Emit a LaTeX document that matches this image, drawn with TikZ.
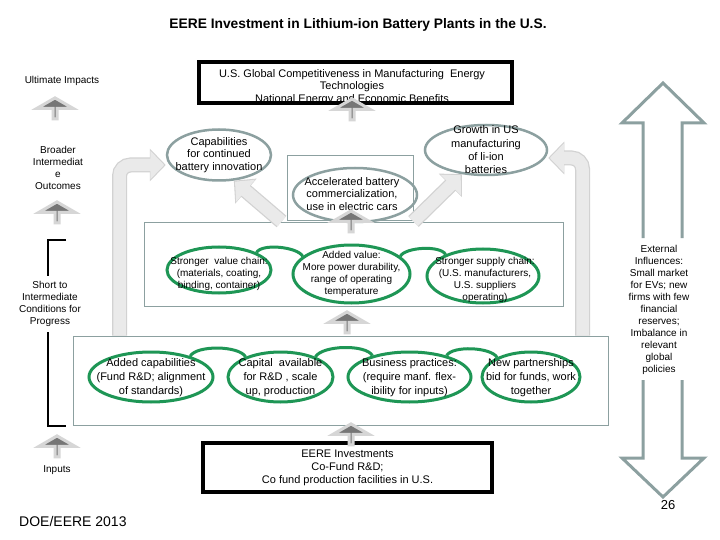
\documentclass[tikz,border=0pt]{standalone}
\usepackage{fontspec}
\setmainfont{Liberation Sans}
\usepackage{tikz}
\usetikzlibrary{shapes.geometric, shapes.arrows, arrows.meta}
\definecolor{tealgray}{RGB}{140,160,160}
\definecolor{chaingreen}{RGB}{30,150,85}
\definecolor{fatfill}{RGB}{234,234,234}
\definecolor{fatedge}{RGB}{210,210,210}
\definecolor{uplight}{RGB}{214,214,214}
\definecolor{updark}{RGB}{118,118,118}

\begin{document}
\begin{tikzpicture}[
				x=1pt, y=-1pt,
				lbl/.style={align=center, inner sep=0pt, font=\fontsize{10}{12}\selectfont},
				txt/.style={align=center, inner sep=0pt, font=\fontsize{11}{12.5}\selectfont},
				gtxt/.style={align=center, inner sep=0pt, font=\fontsize{10}{12}\selectfont},
				btxt/.style={align=center, inner sep=0pt, font=\fontsize{11}{14}\selectfont},
				blackbox/.style={rectangle, draw=black, line width=3.5pt, inner sep=0pt},
				frame/.style={rectangle, draw=tealgray, line width=1pt, inner sep=0pt},
				oval/.style={ellipse, draw=tealgray, line width=2.5pt, inner sep=0pt},
				goval/.style={ellipse, draw=chaingreen, line width=3pt, inner sep=0pt},
				link/.style={draw=chaingreen, line width=3pt, out=60, in=120, looseness=0.6},
				uparrow/.style={single arrow, rotate=90, fill=updark, draw=uplight, line width=3pt,
					minimum height=21pt, minimum width=36pt, single arrow head extend=12pt,
					single arrow tip angle=120, inner sep=0pt},
				fatback/.style={draw=fatedge, line width=15pt, rounded corners=11pt, -{Triangle[width=32pt, length=16pt]}},
				fatfront/.style={draw=fatfill, line width=12.5pt, rounded corners=11pt, shorten >=1.5pt, -{Triangle[width=28pt, length=14pt]}},
				hollow/.style={draw=tealgray, line width=3pt, line join=miter},
				bracket/.style={draw=black, line width=2pt}
				]
				\path[use as bounding box, fill=white] (0,0) rectangle (720,540);

				\node[font=\fontsize{13.8}{16}\selectfont\bfseries] (title) at (358,25) {EERE Investment in Lithium-ion Battery Plants in the U.S.};

				\node[txt] (impt) at (352,87) {U.S. Global Competitiveness in Manufacturing \ Energy\\Technologies\\National Energy and Economic Benefits};
				\node[blackbox, minimum width=313pt, minimum height=41pt] (imp) at (355.5,82.5) {};

				\node[lbl] (ult) at (62,81) {Ultimate Impacts};
				\node[lbl] (broad) at (58,168) {Broader\\Intermediat\\e\\Outcomes};
				\node[lbl] (short) at (50,304) {Short to\\Intermediate\\Conditions for\\Progress};
				\node[lbl] (inp) at (57,470) {Inputs};
				\node[font=\fontsize{14}{16}\selectfont, anchor=west, inner sep=0pt] (doe) at (19,521) {DOE/EERE 2013};
				\node[font=\fontsize{13}{15}\selectfont, inner sep=0pt] (pg) at (668,505) {26};

				\draw[bracket] (66,240) -- (48,240) -- (48,276);
				\draw[bracket] (48,332) -- (48,426) -- (66,426);

				\node[frame, minimum width=126pt, minimum height=65pt] (accbox) at (350,188.5) {};
				\node[frame, minimum width=419pt, minimum height=83pt] (mid) at (353.5,264.5) {};
				\node[frame, minimum width=535pt, minimum height=89pt] (bot) at (340.5,380.5) {};

				\node[oval, minimum width=104pt, minimum height=51pt,
					label={[txt]center:{Capabilities\\for continued\\battery innovation}}] (cap) at (219,155) {};
				\node[oval, minimum width=124pt, minimum height=54pt,
					label={[txt, xshift=-3pt, yshift=1pt]center:{Accelerated battery\\commercialization,\\use in electric cars}}] (acc) at (355,195) {};
				\node[oval, minimum width=122pt, minimum height=50pt,
					label={[txt, font=\fontsize{11}{13.3}\selectfont]center:{Growth in US\\manufacturing\\of li-ion\\batteries}}] (grow) at (486,150) {};

				\draw[fatback] ([xshift=47pt]bot.north west) |- ([yshift=-10pt]cap.west);
				\draw[fatfront] ([xshift=47pt]bot.north west) |- ([yshift=-10pt]cap.west);
				\draw[fatback] ([xshift=-26pt]bot.north east) |- ([yshift=-8pt]grow.east);
				\draw[fatfront] ([xshift=-26pt]bot.north east) |- ([yshift=-8pt]grow.east);
				\draw[fatback] ([xshift=-5pt]accbox.south west) -- (cap.-60);
				\draw[fatfront] ([xshift=-5pt]accbox.south west) -- (cap.-60);
				\draw[fatback] (accbox.south east) -- (grow.-135);
				\draw[fatfront] (accbox.south east) -- (grow.-135);

				\node[goval, minimum width=104pt, minimum height=46pt,
					label={[gtxt, yshift=-4pt]center:{Stronger \ value chain:\\(materials, coating,\\binding, container)}}] (v1) at (219,270) {};
				\node[goval, minimum width=117pt, minimum height=58pt,
					label={[gtxt]center:{Added value:\\More power durability,\\range of operating\\temperature}}] (v2) at (351.5,274) {};
				\node[goval, minimum width=112pt, minimum height=54pt,
					label={[gtxt, xshift=2pt, yshift=-4pt]center:{Stronger supply chain:\\(U.S. manufacturers,\\U.S. suppliers\\operating)}}] (v3) at (483,276) {};
				\draw[link] (v1.25) to (v2.160);
				\draw[link] (v2.20) to (v3.150);

				\node[goval, minimum width=124pt, minimum height=50pt,
					label={[btxt, yshift=-1pt]center:{Added capabilities\\(Fund R\&D; alignment\\of standards)}}] (e1) at (151,377) {};
				\node[goval, minimum width=105pt, minimum height=50pt,
					label={[btxt, yshift=-1pt]center:{Capital \ available\\for R\&D , scale\\up, production}}] (e2) at (280.5,377) {};
				\node[goval, minimum width=123pt, minimum height=50pt,
					label={[btxt, yshift=-1pt]center:{Business practices:\\(require manf. flex-\\ibility for inputs)}}] (e3) at (409.5,377) {};
				\node[goval, minimum width=98pt, minimum height=50pt,
					label={[btxt, yshift=-1pt]center:{New partnerships\\bid for funds, work\\together}}] (e4) at (531,377) {};
				\draw[link] (e1.28) to (e2.150);
				\draw[link] (e2.30) to (e3.150);
				\draw[link] (e3.30) to (e4.150);

				\node[blackbox, minimum width=289pt, minimum height=49pt, align=center,
					font=\fontsize{11}{13}\selectfont] (eere) at (347.5,467.5) {EERE Investments\\Co-Fund R\&D;\\Co fund production facilities in U.S.};

				\node[uparrow] (a1) at (55,109) {};
				\node[uparrow] (a2) at (352,110) {};
				\node[uparrow] (a3) at (57,213) {};
				\node[uparrow] (a4) at (57,447) {};
				\node[uparrow] (a5) at (351,222) {};
				\node[uparrow] (a6) at (347,323) {};
				\node[uparrow] (a7) at (351,435) {};

				\node[lbl] (ext) at (659,310) {External\\Influences:\\Small market\\for EVs; new\\firms with few\\financial\\reserves;\\Imbalance in\\relevant\\global\\policies};
				\draw[hollow] (643,238) -- (643,123) -- (622,123) -- (663,83) -- (704,123) -- (682,123) -- (682,238);
				\draw[hollow] (643,380) -- (643,458) -- (622,458) -- (663,497) -- (704,458) -- (682,458) -- (682,380);
			\end{tikzpicture}
\end{document}
